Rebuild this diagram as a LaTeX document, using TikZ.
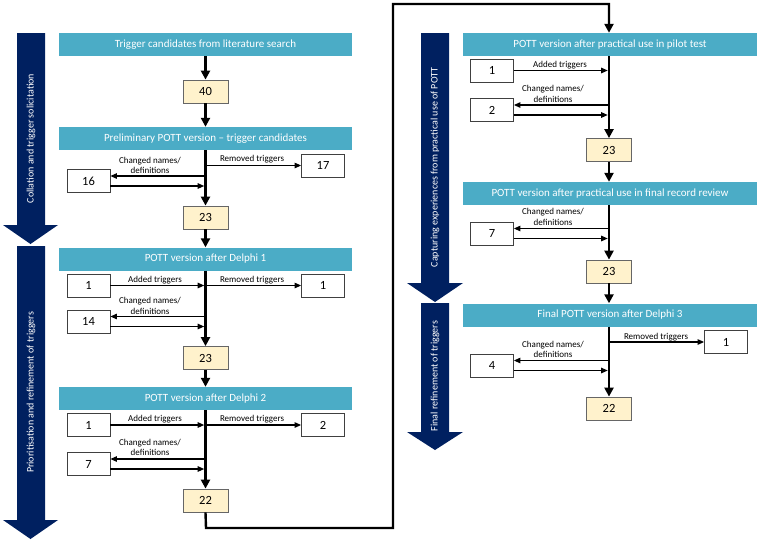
\documentclass[tikz,border=0pt]{standalone}
\usepackage{fontspec}
\setmainfont{Carlito}
\usetikzlibrary{arrows.meta}
\definecolor{bannerteal}{HTML}{4BACC6}
\definecolor{navyblue}{HTML}{002060}
\definecolor{numfill}{HTML}{FFF2CC}
\begin{document}
\begin{tikzpicture}[x=1pt,y=-1pt,
  banner/.style={fill=bannerteal, text=white, minimum width=293pt, minimum height=23pt, inner sep=0pt, font=\fontsize{11}{13}\selectfont},
  numbox/.style={draw=black!60, fill=numfill, minimum width=45pt, minimum height=23pt, inner sep=0pt, line width=0.8pt, font=\fontsize{12.5}{14}\selectfont},
  wbox/.style={draw=black!75, fill=white, minimum width=43pt, minimum height=23pt, inner sep=0pt, line width=0.8pt, font=\fontsize{12.5}{14}\selectfont},
  flow/.style={line width=2.6pt, -{Triangle[width=9pt,length=9pt]}},
  branch/.style={line width=1.1pt, -{Triangle[width=5.5pt,length=6.5pt]}},
  lbl/.style={font=\fontsize{9}{10.5}\selectfont, align=center, inner sep=0pt},
  sidetext/.style={text=white, rotate=90, inner sep=0pt, font=\fontsize{10}{12}\selectfont},
  loopline/.style={line width=2.4pt, -{Triangle[width=9pt,length=9pt]}}
]
\useasboundingbox (0,0) rectangle (760,542);

% ---------- side arrows ----------
\fill[navyblue] (17,33) -- (45,33) -- (45,225) -- (58,225) -- (30.5,244) -- (3,225) -- (17,225) -- cycle;
\node[sidetext] (s1) at (31,138.5) {Collation and trigger solicitation};
\fill[navyblue] (17,246) -- (45,246) -- (45,520) -- (58,520) -- (30.5,539) -- (3,520) -- (17,520) -- cycle;
\node[sidetext] (s2) at (31,392.5) {Prioritisation and refinement of triggers};
\fill[navyblue] (421,33) -- (449,33) -- (449,283) -- (463,283) -- (435,302) -- (407,283) -- (421,283) -- cycle;
\node[sidetext] (s3) at (435,167.5) {Capturing experiences from practical use of POTT};
\fill[navyblue] (421,303) -- (449,303) -- (449,432) -- (463,432) -- (435,450) -- (407,432) -- (421,432) -- cycle;
\node[sidetext] (s4) at (435,376) {Final refinement of triggers};

% ---------- left column ----------
\node[banner] (b1) at (205.5,44.5) {Trigger candidates from literature search};
\node[numbox] (n40) at (205.5,91.5) {40};
\node[banner] (b2) at (205.5,138.5) {Preliminary POTT version -- trigger candidates};
\node[wbox] (w17) at (323,165.5) {17};
\node[wbox] (w16) at (88.5,181) {16};
\node[numbox] (n23a) at (205.5,217.5) {23};
\node[banner] (b3) at (205.5,259) {POTT version after Delphi 1};
\node[wbox] (w1a) at (88.5,285.5) {1};
\node[wbox] (w1b) at (323,285.5) {1};
\node[wbox] (w14) at (88.5,321.5) {14};
\node[numbox] (n23b) at (205.5,358) {23};
\node[banner] (b4) at (205.5,398.5) {POTT version after Delphi 2};
\node[wbox] (w1c) at (88.5,425) {1};
\node[wbox] (w2) at (323,425) {2};
\node[wbox] (w7a) at (88.5,464) {7};
\node[numbox] (n22a) at (205.5,500.5) {22};

\node[lbl] (l1) at (252,159) {Removed triggers};
\node[lbl] (l2) at (150,165.5) {Changed names/\\definitions};
\node[lbl] (l3) at (155,280) {Added triggers};
\node[lbl] (l4) at (252,280) {Removed triggers};
\node[lbl] (l5) at (150,306) {Changed names/\\definitions};
\node[lbl] (l6) at (155,419) {Added triggers};
\node[lbl] (l7) at (252,419) {Removed triggers};
\node[lbl] (l8) at (150,447.5) {Changed names/\\definitions};

\draw[flow] (b1) -- (n40);
\draw[flow] (n40) -- (b2);
\draw[flow] (b2) -- (n23a);
\draw[flow] (n23a) -- (b3);
\draw[flow] (b3) -- (n23b);
\draw[flow] (n23b) -- (b4);
\draw[flow] (b4) -- (n22a);

\draw[branch] (w17.west -| b2.south) -- (w17.west);
\draw[branch] ([yshift=5pt]w16.east -| b2.south) -- ([yshift=5pt]w16.east);
\draw[branch, shorten >=1.3pt] ([yshift=-5pt]w16.east) -- ([yshift=-5pt]w16.east -| b2.south);

\draw[branch, shorten >=1.3pt] (w1a.east) -- (w1a.east -| b3.south);
\draw[branch] (w1b.west -| b3.south) -- (w1b.west);
\draw[branch] ([yshift=5pt]w14.east -| b3.south) -- ([yshift=5pt]w14.east);
\draw[branch, shorten >=1.3pt] ([yshift=-5pt]w14.east) -- ([yshift=-5pt]w14.east -| b3.south);

\draw[branch, shorten >=1.3pt] (w1c.east) -- (w1c.east -| b4.south);
\draw[branch] (w2.west -| b4.south) -- (w2.west);
\draw[branch] ([yshift=5pt]w7a.east -| b4.south) -- ([yshift=5pt]w7a.east);
\draw[branch, shorten >=1.3pt] ([yshift=-5pt]w7a.east) -- ([yshift=-5pt]w7a.east -| b4.south);

% ---------- right column ----------
\node[banner, minimum width=294pt] (r1) at (610,44.5) {POTT version after practical use in pilot test};
\node[wbox] (w1d) at (492,70.5) {1};
\node[wbox] (w2b) at (492,110) {2};
\node[numbox] (n23c) at (609,150) {23};
\node[banner, minimum width=294pt] (r2) at (610,193.5) {POTT version after practical use in final record review};
\node[wbox] (w7b) at (492,233.5) {7};
\node[numbox] (n23d) at (609,271.5) {23};
\node[banner, minimum width=294pt] (r3) at (610,315) {Final POTT version after Delphi 3};
\node[wbox] (w1e) at (726,342) {1};
\node[wbox] (w4) at (492,365.5) {4};
\node[numbox] (n22b) at (609,408.5) {22};

\node[lbl] (l9) at (560,65) {Added triggers};
\node[lbl] (l10) at (553,94) {Changed names/\\definitions};
\node[lbl] (l11) at (553,217) {Changed names/\\definitions};
\node[lbl] (l12) at (656,337) {Removed triggers};
\node[lbl] (l13) at (553,349.5) {Changed names/\\definitions};

\draw[flow] (r1.south -| n23c.north) -- (n23c);
\draw[flow] (n23c) -- (r2.north -| n23c.south);
\draw[flow] (r2.south -| n23d.north) -- (n23d);
\draw[flow] (n23d) -- (r3.north -| n23d.south);
\draw[flow] (r3.south -| n22b.north) -- (n22b);

\draw[branch, shorten >=1.3pt] (w1d.east) -- (w1d.east -| n23c.north);
\draw[branch] ([yshift=5pt]w2b.east -| n23c.north) -- ([yshift=5pt]w2b.east);
\draw[branch, shorten >=1.3pt] ([yshift=-5pt]w2b.east) -- ([yshift=-5pt]w2b.east -| n23c.north);
\draw[branch] ([yshift=5pt]w7b.east -| n23d.north) -- ([yshift=5pt]w7b.east);
\draw[branch, shorten >=1.3pt] ([yshift=-5pt]w7b.east) -- ([yshift=-5pt]w7b.east -| n23d.north);
\draw[branch] (w1e.west -| n22b.north) -- (w1e.west);
\draw[branch] ([yshift=5pt]w4.east -| n22b.north) -- ([yshift=5pt]w4.east);
\draw[branch, shorten >=1.3pt] ([yshift=-5pt]w4.east) -- ([yshift=-5pt]w4.east -| n22b.north);

% ---------- connector between columns ----------
\coordinate (c1) at (206,528);
\coordinate (c2) at (393,528);
\coordinate (c3) at (393,4);
\coordinate (c4) at (609,4);
\draw[loopline] (n22a.south) -- (c1) -- (c2) -- (c3) -- (c4) -- (c4 |- r1.north);
\end{tikzpicture}
\end{document}
